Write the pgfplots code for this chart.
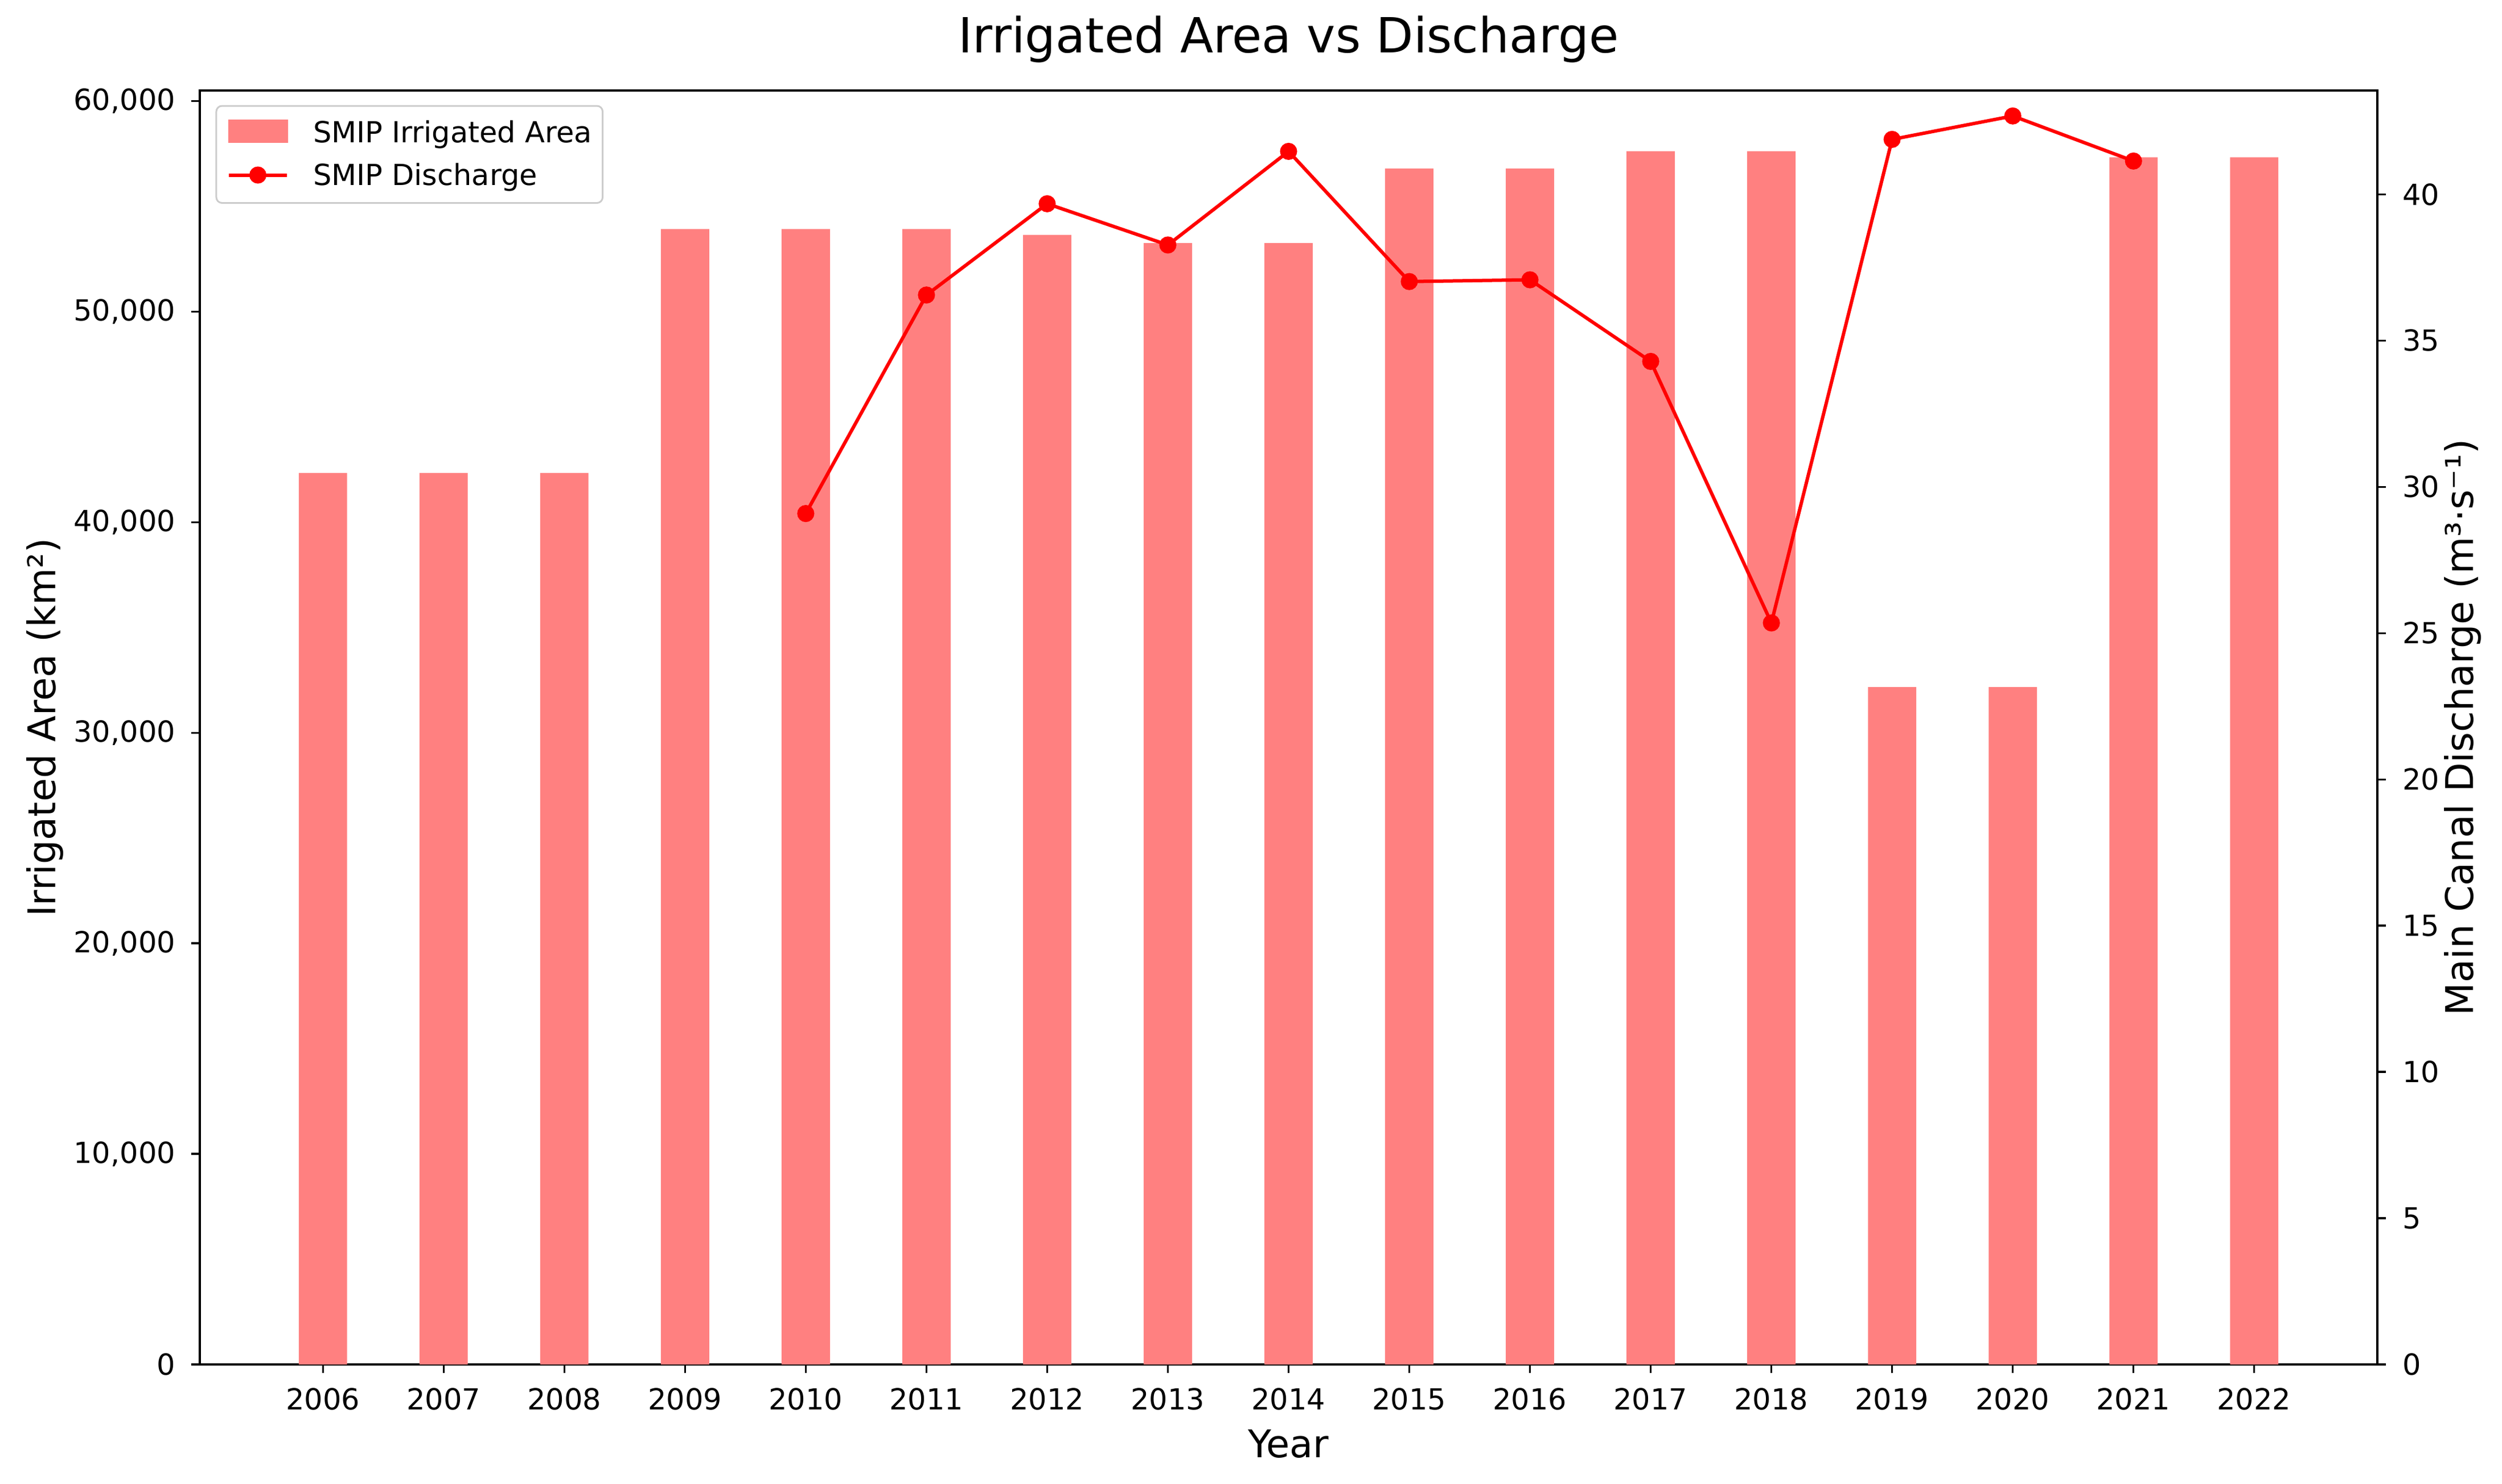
\documentclass[border=0pt]{standalone}
\usepackage{fontspec}
\setmainfont{DejaVu Sans}
\usepackage{pgfplots}
\pgfplotsset{compat=1.18}

\definecolor{barred}{RGB}{255,128,128}

\pgfplotsset{
  common/.style={
    scale only axis, width=382.5pt, height=223.8pt,
    at={(0,0)}, anchor=south west,
    xmin=2004.98, xmax=2023.02,
    tick align=outside,
    major tick length=1.5pt,
    tick style={black, line width=0.35pt},
    axis line style={line width=0.35pt},
    tick label style={font=\fontsize{5.1pt}{6pt}\selectfont},
    /pgf/number format/assume math mode=true,
    scaled ticks=false,
  },
  linelegend/.style={legend image code/.code={%
    \draw[mark repeat=2, mark phase=2, sharp corners, ##1] plot coordinates {(0pt,0.3pt) (5.1pt,0.3pt) (10.2pt,0.3pt)};}},
  barlegend/.style={legend image code/.code={%
    \fill[barred, sharp corners] (0pt,-1.4pt) rectangle (10.2pt,2.4pt);}},
}

\begin{document}
\begin{tikzpicture}
\useasboundingbox (-35.1pt,-20.9pt) rectangle (404.4pt,239.7pt);

% left axis: irrigated area bars
\begin{axis}[common,
  ymin=0, ymax=60500,
  ytick={0,10000,...,60000},
  xtick={2006,...,2022},
  tick pos=left,
  yticklabel style={anchor=east, inner sep=0pt, xshift=-2.6pt, /pgf/number format/1000 sep={,}},
  xticklabel style={anchor=north, inner sep=0pt, yshift=-2.5pt, /pgf/number format/1000 sep={}},
  xlabel={Year},
  ylabel={Irrigated Area (km²)},
  every axis x label/.style={at={(axis description cs:0.5,0)}, anchor=base, yshift=-16.3pt, inner sep=0pt, font=\fontsize{6.7pt}{8pt}\selectfont},
  every axis y label/.style={at={(axis description cs:-0.08,0.5)}, rotate=90, anchor=north, inner sep=0pt, font=\fontsize{6.7pt}{8pt}\selectfont},
  title={Irrigated Area vs Discharge},
  every axis title/.style={at={(axis description cs:0.5,1)}, anchor=base, yshift=6.7pt, inner sep=0pt, font=\fontsize{8.5pt}{10pt}\selectfont},
]
\addplot[ybar, bar width=0.4, bar shift=0, fill=barred, draw=none] coordinates {
  (2006,42340) (2007,42340) (2008,42340) (2009,53920) (2010,53920) (2011,53920)
  (2012,53645) (2013,53260) (2014,53260) (2015,56790) (2016,56790) (2017,57620)
  (2018,57620) (2019,32170) (2020,32170) (2021,57330) (2022,57330)
};
\end{axis}

% right axis: discharge line
\begin{axis}[common,
  ymin=0, ymax=43.55,
  ytick={0,5,...,40},
  axis x line=none, axis y line*=right,
  yticklabel style={anchor=west, inner sep=0pt, xshift=2.7pt},
  ylabel={Main Canal Discharge (m³·s⁻¹)},
  every axis y label/.style={at={(axis description cs:1.0303,0.5)}, rotate=90, anchor=north, inner sep=0pt, font=\fontsize{6.7pt}{8pt}\selectfont},
  legend cell align=left,
  legend style={at={(axis description cs:0.00758,0.98794)}, anchor=north west,
    draw=black!20, line width=0.3pt, rounded corners=1pt, fill=white,
    inner xsep=1.9pt, inner ysep=2.4pt, outer sep=0pt,
    row sep=3.1pt, column sep=4.3pt,
    font=\fontsize{5.1pt}{6pt}\selectfont,
    nodes={inner sep=0pt, text height=3.7pt, text depth=0.7pt}},
]
\addlegendimage{barlegend}
\addlegendentry{SMIP Irrigated Area}
\addplot[red, line width=0.6pt, mark=*, mark size=1.2pt, mark options={solid, fill=red, draw=red}, linelegend]
  coordinates {
  (2010,29.09) (2011,36.56) (2012,39.68) (2013,38.27) (2014,41.47) (2015,37.02)
  (2016,37.08) (2017,34.29) (2018,25.35) (2019,41.88) (2020,42.68) (2021,41.14)
};
\addlegendentry{SMIP Discharge}
\end{axis}
\end{tikzpicture}
\end{document}
